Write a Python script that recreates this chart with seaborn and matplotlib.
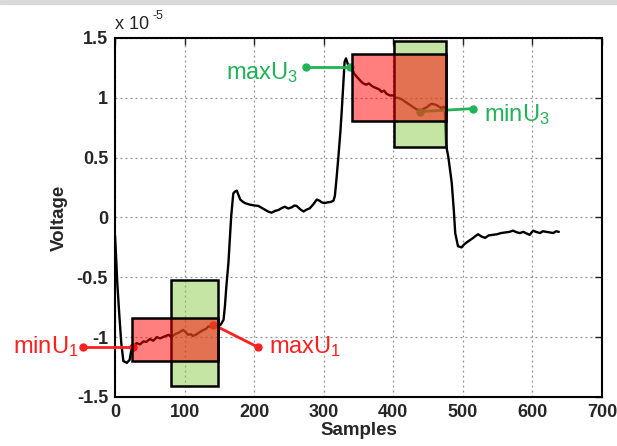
import numpy as np
import pandas as pd
import seaborn as sns
import matplotlib.pyplot as plt
from matplotlib.patches import Rectangle

# voltage trace (units of 1e-5)
samples = [0, 2, 3, 6, 9, 12, 17, 21, 24, 28, 31, 36, 41, 45, 50, 55, 60, 65, 69, 73, 77, 81, 84, 88,
           91, 95, 98, 102, 105, 109, 112, 116, 120, 124, 127, 131, 134, 138, 141, 145, 148, 152, 156,
           158, 160, 163, 165, 167, 170, 172, 175, 178, 180, 184, 187, 192, 196, 201, 206, 211, 216,
           220, 225, 230, 235, 240, 244, 249, 254, 258, 261, 266, 271, 275, 280, 285, 290, 294, 297,
           301, 306, 310, 314, 316, 318, 321, 324, 326, 328, 330, 332, 335, 338, 340, 344, 347, 350,
           354, 357, 361, 365, 369, 372, 376, 380, 383, 387, 390, 395, 400, 404, 407, 411, 414, 419,
           424, 428, 433, 436, 440, 444, 448, 452, 455, 459, 462, 466, 469, 472, 474, 476, 479, 484,
           487, 489, 493, 498, 501, 505, 510, 515, 518, 522, 527, 532, 537, 543, 549, 555, 561, 567,
           572, 578, 582, 587, 592, 596, 601, 605, 611, 615, 620, 625, 630, 634, 638]
voltage = [-0.15, -0.38, -0.52, -0.8, -1.05, -1.2, -1.215, -1.19, -1.09, -1.07, -1.05, -1.06, -1.035,
           -1.04, -1.015, -1.03, -1.0, -1.01, -1.0, -0.99, -0.98, -1.0, -0.985, -0.97, -0.965, -0.95,
           -0.94, -0.96, -0.98, -0.975, -0.99, -0.98, -0.965, -0.95, -0.94, -0.93, -0.91, -0.915,
           -0.895, -0.9, -0.91, -0.895, -0.855, -0.74, -0.58, -0.38, -0.19, 0.01, 0.2, 0.215, 0.225,
           0.18, 0.15, 0.13, 0.12, 0.11, 0.105, 0.1, 0.097, 0.08, 0.063, 0.05, 0.04, 0.055, 0.063,
           0.08, 0.09, 0.075, 0.085, 0.1, 0.097, 0.07, 0.05, 0.065, 0.077, 0.11, 0.15, 0.14, 0.127,
           0.12, 0.127, 0.13, 0.14, 0.18, 0.3, 0.5, 0.72, 0.9, 1.1, 1.3, 1.33, 1.275, 1.26, 1.25,
           1.2, 1.18, 1.16, 1.135, 1.12, 1.11, 1.12, 1.1, 1.09, 1.08, 1.07, 1.05, 1.06, 1.035, 1.02,
           1.02, 1.0, 1.0, 0.99, 0.98, 0.96, 0.94, 0.925, 0.905, 0.9, 0.895, 0.91, 0.92, 0.94, 0.95,
           0.945, 0.94, 0.925, 0.915, 0.925, 0.92, 0.6, 0.51, 0.29, 0.06, -0.13, -0.24, -0.25, -0.23,
           -0.21, -0.19, -0.17, -0.155, -0.14, -0.16, -0.17, -0.15, -0.145, -0.14, -0.13, -0.125,
           -0.12, -0.11, -0.125, -0.13, -0.12, -0.135, -0.145, -0.11, -0.12, -0.13, -0.115, -0.12,
           -0.125, -0.13, -0.115, -0.12]

# window boxes: (x0, x1, y0, y1)
red_boxes = [(24, 148, -1.20, -0.84), (340, 476, 0.81, 1.367)]
green_boxes = [(80, 148, -1.41, -0.525), (401, 476, 0.585, 1.475)]

# annotations: label, curve point, label dot, colour
ann_labels = ['minU$_\\mathrm{1}$', 'maxU$_\\mathrm{1}$', 'maxU$_\\mathrm{3}$', 'minU$_\\mathrm{3}$']
ann_from = [(26, -1.085), (141, -0.895), (338, 1.26), (438, 0.885)]
ann_to = [(-46, -1.085), (206, -1.085), (275, 1.26), (515, 0.91)]
ann_colors = ['#ff1f1f', '#ff1f1f', '#1fb356', '#1fb356']

sns.set_style('white')
plt.rcParams['font.family'] = ['Liberation Sans', 'DejaVu Sans']
plt.rcParams['mathtext.fontset'] = 'custom'
plt.rcParams['mathtext.rm'] = 'Liberation Sans'
plt.rcParams['mathtext.it'] = 'Liberation Sans:italic'

fig = plt.figure(figsize=(6.17, 4.46), dpi=100)
ax = fig.add_axes([0.1864, 0.1099, 0.7893, 0.8049])

df = pd.DataFrame({'Samples': samples, 'Voltage': voltage})
sns.lineplot(data=df, x='Samples', y='Voltage', color='black', lw=1.7, ax=ax, zorder=2)

for (fx, fy), (tx, ty), c in zip(ann_from, ann_to, ann_colors):
    ax.plot([fx, tx], [fy, ty], color=c, lw=2, marker='o', ms=5, clip_on=False, zorder=3)

for x0, x1, y0, y1 in green_boxes:
    ax.add_patch(Rectangle((x0, y0), x1 - x0, y1 - y0, facecolor=(0.55, 0.8, 0.3, 0.5),
                           edgecolor='black', lw=1.8, zorder=4))
for x0, x1, y0, y1 in red_boxes:
    ax.add_patch(Rectangle((x0, y0), x1 - x0, y1 - y0, facecolor=(1, 0, 0, 0.5),
                           edgecolor='black', lw=1.8, zorder=5))

# label text placement
ax.text(-52, -1.08, ann_labels[0], color=ann_colors[0], fontsize=17, ha='right', va='center')
ax.text(221, -1.08, ann_labels[1], color=ann_colors[1], fontsize=17, ha='left', va='center')
ax.text(264, 1.21, ann_labels[2], color=ann_colors[2], fontsize=17, ha='right', va='center')
ax.text(530, 0.86, ann_labels[3], color=ann_colors[3], fontsize=17, ha='left', va='center')

ax.set_xlim(0, 700)
ax.set_ylim(-1.5, 1.5)
ax.set_xticks(range(0, 701, 100))
ax.set_yticks([-1.5, -1, -0.5, 0, 0.5, 1, 1.5])
ax.set_yticklabels(['-1.5', '-1', '-0.5', '0', '0.5', '1', '1.5'])
ax.grid(True, color='#909090', ls=(0, (1.5, 2.5)), lw=0.9)
ax.tick_params(direction='in', length=5, width=1, top=True, right=True, labelsize=13, pad=5)
for lbl in ax.get_xticklabels() + ax.get_yticklabels():
    lbl.set_fontweight('bold')
for s in ax.spines.values():
    s.set_visible(True)
    s.set_color('black')
    s.set_linewidth(1.5)
ax.set_xlabel('Samples', fontsize=13.5, fontweight='bold', labelpad=1)
ax.set_ylabel('Voltage', fontsize=13.5, fontweight='bold', labelpad=6)
ax.text(0, 1.015, 'x 10', transform=ax.transAxes, fontsize=13, ha='left', va='bottom')
ax.text(0.078, 1.045, '-5', transform=ax.transAxes, fontsize=9, ha='left', va='bottom')

fig.add_artist(Rectangle((0, 1 - 4 / 446), 1, 4 / 446, transform=fig.transFigure,
                         color='#d9d9d9', zorder=0))

fig.savefig('out.png', dpi=100)
